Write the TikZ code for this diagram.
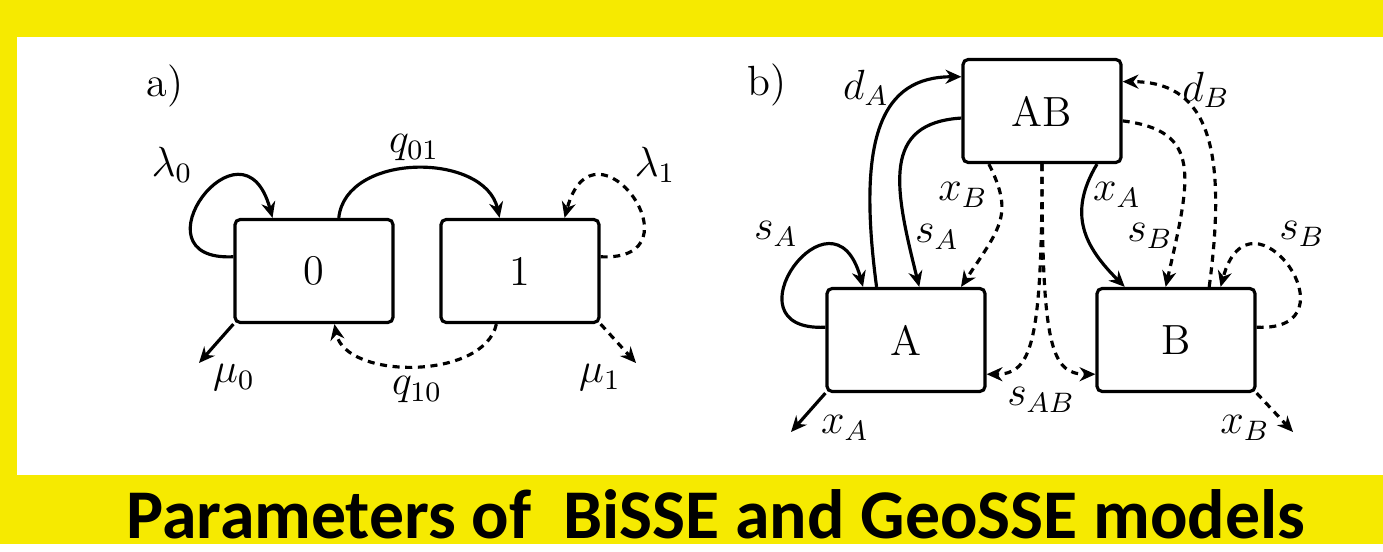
\documentclass[tikz,border=0pt]{standalone}
\usepackage{amsmath,amssymb}
\usepackage{xcolor}
\usepackage{fontspec}
\newfontfamily\titlefont{Carlito}
\usepackage{tikz}
\usetikzlibrary{arrows.meta,positioning}
\definecolor{slideyellow}{RGB}{246,234,0}

\begin{document}
\begin{tikzpicture}[x=0.01cm, y=0.01cm, font=\large,
    state/.style={draw, line width=0.9pt, rounded corners=1.5pt, inner sep=0pt,
      minimum width=1.58cm, minimum height=1.03cm},
    trans/.style={line width=0.9pt, -{Stealth[length=4.5pt, width=4pt]}},
    dtrans/.style={trans, dash pattern=on 2pt off 1.6pt}]
  % slide background and white panel
  \fill[slideyellow] (0, 0) rectangle (1383, -544);
  \fill[white] (17, -37) rectangle (1383, -475);
  \node[font=\titlefont\bfseries\fontsize{19.85}{22}\selectfont, anchor=base] (title) at (716, -539) {Parameters of \ BiSSE and GeoSSE models};
  % a) BiSSE
  \node (lbla) at (165, -86) {a)};
  \node[state] (zero) at (314, -271) {0};
  \node[state] (one) at (520, -271) {1};
  \coordinate (mu0end) at (199, -363);
  \coordinate (mu1end) at (636, -363);
  \draw[trans] (zero.170) .. controls +(-104, -5) and +(-30, 110) .. (zero.128);
  \draw[trans] (zero.65) .. controls +(7, 66) and +(-15, 66) .. (one.111);
  \draw[dtrans] (one.10) .. controls +(104, -5) and +(30, 110) .. (one.50);
  \draw[dtrans] (one.246) .. controls +(-12, -56) and +(11, -56) .. (zero.-69);
  \draw[trans] (zero.south west) -- (mu0end);
  \draw[dtrans] (one.south east) -- (mu1end);
  \node (lam0) at (172, -165) {$\lambda_0$};
  \node (lam1) at (655, -165) {$\lambda_1$};
  \node (q01) at (414, -148) {$q_{01}$};
  \node (q10) at (417, -390) {$q_{10}$};
  \node (mu0) at (234, -378) {$\mu_0$};
  \node (mu1) at (600, -378) {$\mu_1$};
  % b) GeoSSE
  \node (lblb) at (767, -85) {b)};
  \node[state] (AB) at (1042, -111) {AB};
  \node[state] (A) at (906, -340) {A};
  \node[state] (B) at (1176, -340) {B};
  \coordinate (xAend) at (791, -432);
  \coordinate (xBend) at (1293, -432);
  \draw[trans] (A.171) .. controls +(-104, -5) and +(-30, 110) .. (A.129);
  \draw[trans] (A.119) .. controls +(-20, 150) and +(-80, 0) .. (AB.157);
  \draw[trans] (AB.185) .. controls +(-80, -5) and +(-25, 100) .. (A.76);
  \draw[dtrans] (AB.225) .. controls +(25, -50) and +(40, 60) .. (A.44);
  \draw[dtrans] (AB.south) .. controls +(0, -180) and +(45, 0) .. (A.-23);
  \draw[dtrans] (AB.south) .. controls +(0, -180) and +(-45, 0) .. (B.203);
  \draw[trans] (AB.316) .. controls +(-30, -50) and +(-40, 40) .. (B.134);
  \draw[dtrans] (AB.353) .. controls +(80, -10) and +(25, 110) .. (B.101);
  \draw[dtrans] (B.58) .. controls +(20, 150) and +(80, 0) .. (AB.20);
  \draw[dtrans] (B.9) .. controls +(104, -5) and +(30, 110) .. (B.50);
  \draw[trans] (A.south west) -- (xAend);
  \draw[dtrans] (B.south east) -- (xBend);
  \node (dA) at (866, -88) {$d_A$};
  \node (dB) at (1206, -90) {$d_B$};
  \node (sAloop) at (776, -234) {$s_A$};
  \node (sA) at (937, -237) {$s_A$};
  \node (xBmid) at (963, -195) {$x_B$};
  \node (xAmid) at (1117, -195) {$x_A$};
  \node (sB) at (1150, -236) {$s_B$};
  \node (sBloop) at (1302, -234) {$s_B$};
  \node (sAB) at (1041, -400) {$s_{AB}$};
  \node (xA) at (845, -428) {$x_A$};
  \node (xB) at (1245, -428) {$x_B$};
\end{tikzpicture}
\end{document}
